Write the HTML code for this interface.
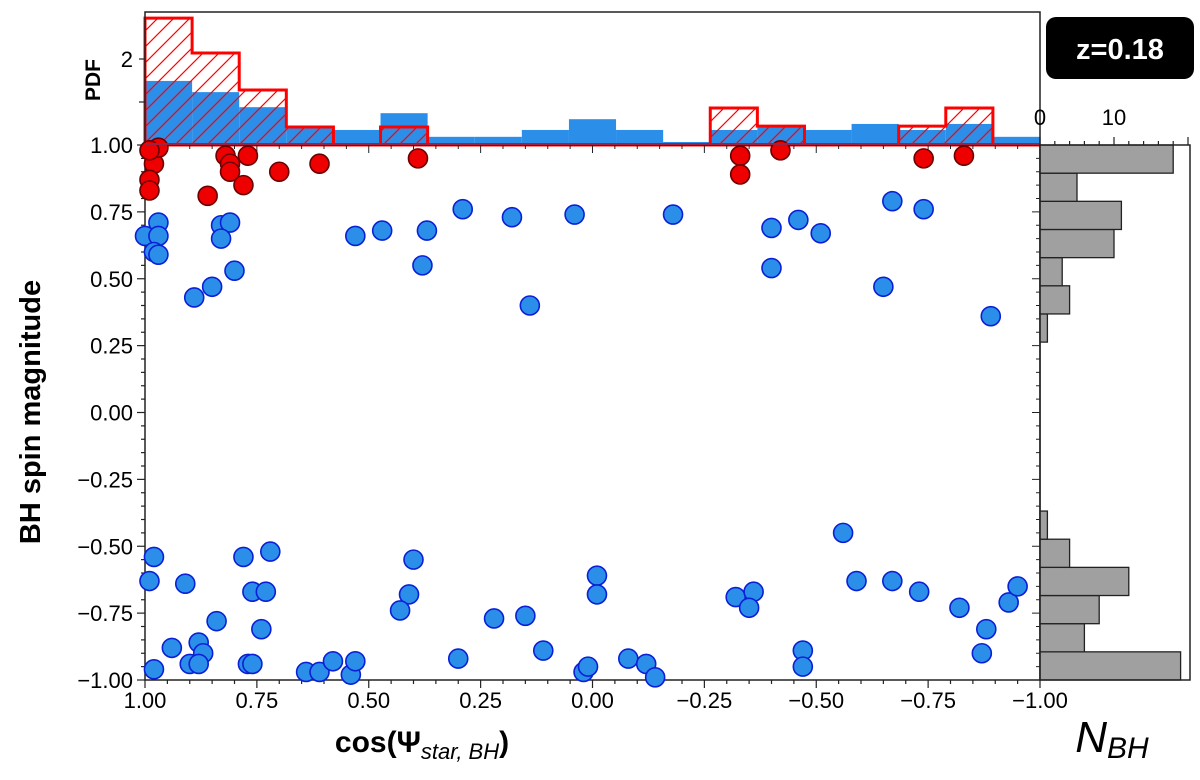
<!DOCTYPE html>
<html><head><meta charset="utf-8"><style>
body{margin:0;background:#fff;width:1200px;height:775px;overflow:hidden;font-family:"Liberation Sans",sans-serif}
svg text{font-family:"Liberation Sans","DejaVu Sans",sans-serif}
</style></head><body>
<svg id="chart" width="1200" height="775" viewBox="0 0 1200 775" xmlns="http://www.w3.org/2000/svg">
<defs>
<pattern id="hatch" patternUnits="userSpaceOnUse" width="16" height="16">
<path d="M-4,4 l8,-8 M0,16 l16,-16 M12,20 l8,-8" stroke="#ff0000" stroke-width="1.2"/>
</pattern>
</defs>
<g id="g"></g>
</svg>
<script>
const redX=[0.98,0.99,0.99,0.97,0.86,0.82,0.81,0.81,0.78,0.77,0.70,0.61,0.39,-0.33,-0.33,-0.42,-0.74,-0.83,0.99];
const redY=[0.93,0.87,0.83,0.99,0.81,0.96,0.93,0.90,0.85,0.96,0.90,0.93,0.95,0.96,0.89,0.98,0.95,0.96,0.98];
const blueX=[0.97,1.00,0.97,0.98,0.97,0.83,0.81,0.83,0.80,0.85,0.89,0.53,0.47,0.37,0.38,0.29,0.18,0.14,0.04,-0.18,-0.40,-0.40,-0.46,-0.51,-0.65,-0.67,-0.74,-0.89,
0.98,0.99,0.91,0.78,0.72,0.76,0.73,0.84,0.74,0.94,0.88,0.87,0.90,0.88,0.98,0.77,0.76,0.64,0.61,0.58,0.54,0.53,0.40,0.41,0.43,0.30,0.22,0.15,0.11,0.02,0.01,-0.01,-0.01,-0.08,-0.12,-0.14,-0.32,-0.36,-0.35,-0.47,-0.47,-0.56,-0.59,-0.67,-0.73,-0.82,-0.88,-0.87,-0.93,-0.95];
const blueY=[0.71,0.66,0.66,0.60,0.59,0.70,0.71,0.65,0.53,0.47,0.43,0.66,0.68,0.68,0.55,0.76,0.73,0.40,0.74,0.74,0.69,0.54,0.72,0.67,0.47,0.79,0.76,0.36,
-0.54,-0.63,-0.64,-0.54,-0.52,-0.67,-0.67,-0.78,-0.81,-0.88,-0.86,-0.90,-0.94,-0.94,-0.96,-0.94,-0.94,-0.97,-0.97,-0.93,-0.98,-0.93,-0.55,-0.68,-0.74,-0.92,-0.77,-0.76,-0.89,-0.97,-0.95,-0.61,-0.68,-0.92,-0.94,-0.99,-0.69,-0.67,-0.73,-0.89,-0.95,-0.45,-0.63,-0.63,-0.67,-0.73,-0.81,-0.90,-0.71,-0.65];
const pdfBlue=[1.49,1.23,0.88,0.42,0.35,0.74,0.19,0.19,0.35,0.60,0.35,0.07,0.35,0.46,0.35,0.49,0.35,0.49,0.19];
const pdfRed=[2.95,2.14,1.28,0.42,0,0.42,0,0,0,0,0,0,0.86,0.44,0,0,0.44,0.86,0];
const nBH=[19,6,8,12,4,1,0,0,0,0,0,0,1,4,3,10,11,5,18];
const yTicks=["1.00","0.75","0.50","0.25","0.00","\u22120.25","\u22120.50","\u22120.75","\u22121.00"];
const yTickVals=[1,0.75,0.5,0.25,0,-0.25,-0.5,-0.75,-1];
const xTicks=["1.00","0.75","0.50","0.25","0.00","\u22120.25","\u22120.50","\u22120.75","\u22121.00"];
const xTickVals=[1,0.75,0.5,0.25,0,-0.25,-0.5,-0.75,-1];

const L=145,R=1040,T=145,B=680,HT=12,RR=1190;
const sx=c=>L+(1-c)/2*(R-L);
const sy=s=>T+(1-s)/2*(B-T);
const sp=p=>T-p*43;
const sn=n=>R+n*7.4;
const g=document.getElementById('g');
const NS='http://www.w3.org/2000/svg';
function mk(tag,attrs,parent){const e=document.createElementNS(NS,tag);for(const k in attrs)e.setAttribute(k,attrs[k]);(parent||g).appendChild(e);return e;}
function txt(x,y,s,attrs){const e=mk('text',Object.assign({x:x,y:y},attrs));e.textContent=s;return e;}

const nb=19,bw=(R-L)/nb;
for(let i=0;i<nb;i++){
 const x0=L+i*bw, h=T-sp(pdfBlue[i]);
 const r=mk('rect',{x:x0,y:sp(pdfBlue[i]),width:bw,height:h,fill:'#2b8fea'});
 
 
}
let d='M'+L+','+T;
for(let i=0;i<nb;i++){const x0=L+i*bw;d+=' L'+x0+','+sp(pdfRed[i])+' L'+(x0+bw)+','+sp(pdfRed[i]);}
d+=' L'+R+','+T+' Z';
const hf=mk('path',{d:d,fill:'url(#hatch)',stroke:'none'});


const hl=mk('path',{d:d,fill:'none',stroke:'#ff0000','stroke-width':3,'stroke-linejoin':'miter'});


mk('path',{d:`M${L},${T} V${HT} H${R} V${T}`,fill:'none',stroke:'#222','stroke-width':1.5});
[1,2].forEach(v=>{mk('line',{x1:L-6,x2:L,y1:sp(v),y2:sp(v),stroke:'#222','stroke-width':1.2});});
txt(L-12,sp(2)+8,'2',{'font-size':22,'text-anchor':'end'});
const pdfl=txt(0,0,'PDF',{'font-size':21,'font-weight':'bold','text-anchor':'middle',transform:'translate(100,80) rotate(-90)'});


mk('rect',{x:L,y:T,width:R-L,height:B-T,fill:'none',stroke:'#222','stroke-width':1.5});
for(let i=0;i<=40;i++){const x=L+i*(R-L)/40;mk('line',{x1:x,x2:x,y1:B,y2:B+(i%5==0?8:4),stroke:'#222','stroke-width':1.2});mk('line',{x1:x,x2:x,y1:T,y2:T+(i%5==0?8:4),stroke:'#222','stroke-width':1});}
for(let i=0;i<=40;i++){const y=T+i*(B-T)/40;mk('line',{x1:L-(i%5==0?8:4),x2:L,y1:y,y2:y,stroke:'#222','stroke-width':1.2});mk('line',{x1:R-(i%5==0?8:4),x2:R,y1:y,y2:y,stroke:'#222','stroke-width':1});}
yTickVals.forEach((v,i)=>{const t=txt(L-12,sy(v)+8,yTicks[i],{'font-size':22,'text-anchor':'end'});});
xTickVals.forEach((v,i)=>{const t=txt(sx(v),708,xTicks[i],{'font-size':22,'text-anchor':'middle'});});

blueX.forEach((c,i)=>{const p=mk('circle',{cx:sx(c),cy:sy(blueY[i]),r:9.5,fill:'#2b8fea',stroke:'#0a1fd6','stroke-width':1.6});
});
redX.forEach((c,i)=>{const p=mk('circle',{cx:sx(c),cy:sy(redY[i]),r:9.5,fill:'#ee0000',stroke:'#6a0000','stroke-width':1.6});
});
mk('line',{x1:L,x2:R,y1:T-1,y2:T-1,stroke:'#a02040','stroke-width':2});

const rb=(B-T)/nb;
for(let i=0;i<nb;i++){ if(nBH[i]<=0)continue; const y0=B-(i+1)*rb;
 const r=mk('rect',{x:R,y:y0,width:sn(nBH[i])-R,height:rb,fill:'#a0a0a0',stroke:'#222','stroke-width':1.3});
 }
mk('rect',{x:R,y:T,width:RR-R,height:B-T,fill:'none',stroke:'#222','stroke-width':1.5});
for(let n=0;n<=20;n+=2){const x=sn(n);mk('line',{x1:x,x2:x,y1:T,y2:T-(n%10==0?8:4),stroke:'#222','stroke-width':1.2});}
txt(sn(0),125,'0',{'font-size':22,'text-anchor':'middle'});
txt(sn(10),125,'10',{'font-size':22,'text-anchor':'middle'});
const nl=txt(1112,752,'N',{'font-size':44,'font-style':'italic','text-anchor':'middle'});
const sub=mk('tspan',{'font-size':30,dy:6},nl);sub.textContent='BH';


const yl=txt(0,0,'BH spin magnitude',{'font-size':29,'font-weight':'bold','text-anchor':'middle',transform:'translate(40,412) rotate(-90)'});

const xl=txt(422,752,'cos(\u03A8',{'font-size':30,'font-weight':'bold','text-anchor':'middle'});
const s1=mk('tspan',{'font-size':22,'font-style':'italic','font-weight':'normal',dy:7},xl);s1.textContent='star, BH';
const s2=mk('tspan',{dy:-7},xl);s2.textContent=')';


const bx=mk('rect',{x:1046,y:17,width:148,height:62,rx:10,fill:'#000'});

txt(1120,59,'z=0.18',{'font-size':29,'font-weight':'bold',fill:'#fff','text-anchor':'middle'});
</script>
</body></html>
